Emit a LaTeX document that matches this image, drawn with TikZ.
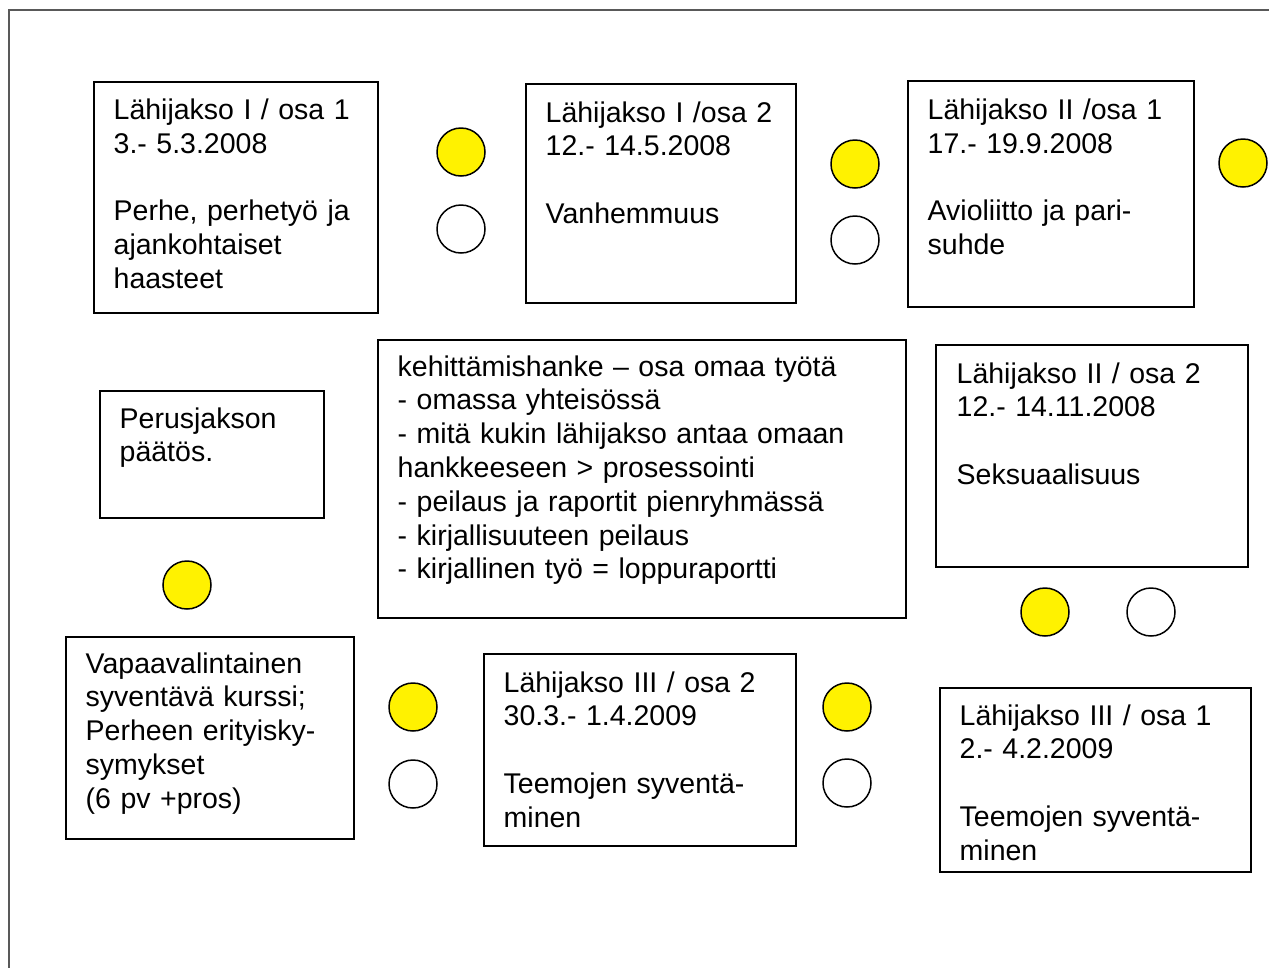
\documentclass[tikz,border=0pt]{standalone}
\usepackage{fontspec}
\setmainfont{Liberation Sans}
\begin{document}
\begin{tikzpicture}[x=1pt,y=-1pt,
  box/.style={draw=black,line width=1.8pt,anchor=north west,inner sep=0pt},
  txt/.style={anchor=base west,inner sep=0pt,align=left,font=\fontsize{28.5}{33.8}\selectfont},
  ydot/.style={circle,draw=black,line width=1.5pt,fill=yellow,minimum size=48pt,inner sep=0pt},
  wdot/.style={circle,draw=black,line width=1.5pt,fill=white,minimum size=48pt,inner sep=0pt},
  frame/.style={draw=black!65,line width=1.6pt}]
\useasboundingbox (0,0) rectangle (1269,967);
\coordinate (fa) at (9,980);
\coordinate (fb) at (9,10);
\coordinate (fc) at (1280,10);
\draw[frame] (fa) -- (fb) -- (fc);

% boxes
\node[box,minimum width=284pt,minimum height=231pt] (b1) at (93,81) {};
\node[box,minimum width=270pt,minimum height=219pt] (b2) at (525,83) {};
\node[box,minimum width=286pt,minimum height=226pt] (b3) at (907,80) {};
\node[box,minimum width=224pt,minimum height=127pt] (b4) at (99,390) {};
\node[box,minimum width=528pt,minimum height=278pt] (b5) at (377,339) {};
\node[box,minimum width=312pt,minimum height=222pt] (b6) at (935,344) {};
\node[box,minimum width=288pt,minimum height=202pt] (b7) at (65,636) {};
\node[box,minimum width=312pt,minimum height=192pt] (b8) at (483,653) {};
\node[box,minimum width=311pt,minimum height=184pt] (b9) at (939,687) {};

% texts
\node[txt,text width=260pt] (t1) at (113.5,119.5) {Lähijakso I / osa 1\\3.- 5.3.2008\\[33.8pt]Perhe, perhetyö ja\\ajankohtaiset\\haasteet};
\node[txt,text width=245pt] (t2) at (545.5,122) {Lähijakso I /osa 2\\12.- 14.5.2008\\[33.8pt]Vanhemmuus};
\node[txt,text width=260pt] (t3) at (927.5,119.5) {Lähijakso II /osa 1\\17.- 19.9.2008\\[33.8pt]Avioliitto ja pari-\\suhde};
\node[txt,text width=200pt] (t4) at (119.5,428) {Perusjakson\\päätös.};
\node[txt,text width=500pt] (t5) at (397.5,376) {kehittämishanke – osa omaa työtä\\- omassa yhteisössä\\- mitä kukin lähijakso antaa omaan\\hankkeeseen > prosessointi\\- peilaus ja raportit pienryhmässä\\- kirjallisuuteen peilaus\\- kirjallinen työ = loppuraportti};
\node[txt,text width=285pt] (t6) at (956.5,383) {Lähijakso II / osa 2\\12.- 14.11.2008\\[33.8pt]Seksuaalisuus};
\node[txt,text width=262pt] (t7) at (85.5,673) {Vapaavalintainen\\syventävä kurssi;\\Perheen erityisky-\\symykset\\(6 pv +pros)};
\node[txt,text width=285pt] (t8) at (503.5,692) {Lähijakso III / osa 2\\30.3.- 1.4.2009\\[33.8pt]Teemojen syventä-\\minen};
\node[txt,text width=285pt] (t9) at (959.5,725) {Lähijakso III / osa 1\\2.- 4.2.2009\\[33.8pt]Teemojen syventä-\\minen};

% dots
\node[ydot] (y1) at (461,152) {};
\node[wdot] (w1) at (461,229) {};
\node[ydot] (y2) at (855,164) {};
\node[wdot] (w2) at (855,240) {};
\node[ydot] (y3) at (1243,163) {};
\node[ydot] (y4) at (187,585) {};
\node[ydot] (y5) at (1045,612) {};
\node[wdot] (w5) at (1151,612) {};
\node[ydot] (y6) at (413,707) {};
\node[wdot] (w6) at (413,784) {};
\node[ydot] (y7) at (847,707) {};
\node[wdot] (w7) at (847,783) {};
\end{tikzpicture}
\end{document}
